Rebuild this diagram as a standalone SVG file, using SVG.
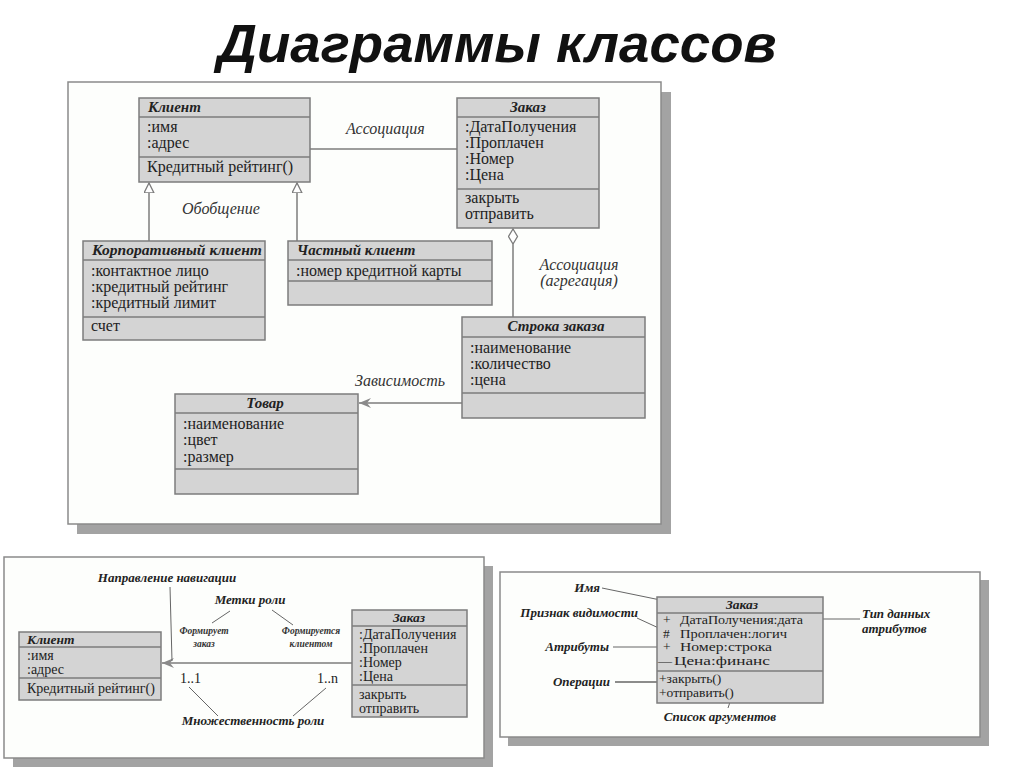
<svg xmlns="http://www.w3.org/2000/svg" width="1024" height="767" viewBox="0 0 1024 767">
<defs>
<style>
.panel{fill:#fdfefc;stroke:#8a8a8a;stroke-width:1.5}
.shadow{fill:#a3a3a3}
.box{fill:#d4d4d4;stroke:#7c7c7c;stroke-width:1.5}
.div{stroke:#7c7c7c;stroke-width:1.3}
.t{font-family:"Liberation Serif",serif;font-size:16px;fill:#222}
.ts{font-family:"Liberation Serif",serif;font-size:14px;fill:#222}
.tx{font-family:"Liberation Serif",serif;font-size:13.5px;fill:#222}
.h{font-family:"Liberation Serif",serif;font-size:15px;font-weight:bold;font-style:italic;fill:#222}
.hs{font-family:"Liberation Serif",serif;font-size:13.5px;font-weight:bold;font-style:italic;fill:#222}
.lbl{font-family:"Liberation Serif",serif;font-size:16px;font-style:italic;fill:#333}
.lb{font-family:"Liberation Serif",serif;font-size:13px;font-weight:bold;font-style:italic;fill:#222}
.tiny{font-family:"Liberation Serif",serif;font-size:9.5px;font-weight:bold;font-style:italic;fill:#333}
.ln{stroke:#7c7c7c;stroke-width:1.5;fill:none}
.ptr{stroke:#666;stroke-width:1;fill:none}
</style>
<marker id="tri" markerWidth="12" markerHeight="12" refX="10" refY="5" orient="auto" markerUnits="userSpaceOnUse">
<path d="M0,0 L10,5 L0,10 Z" fill="#fff" stroke="#7c7c7c" stroke-width="1.3"/>
</marker>
<marker id="dia" markerWidth="18" markerHeight="12" refX="15" refY="5" orient="auto" markerUnits="userSpaceOnUse">
<path d="M0,5 L7.5,0.5 L15,5 L7.5,9.5 Z" fill="#fff" stroke="#7c7c7c" stroke-width="1.3"/>
</marker>
<marker id="arr" markerWidth="14" markerHeight="12" refX="12" refY="5" orient="auto" markerUnits="userSpaceOnUse">
<path d="M0,0 L12,5 L0,10 L4,5 Z" fill="#8a8a8a"/>
</marker>
</defs>
<rect width="1024" height="767" fill="#ffffff"/>
<text x="497" y="62" text-anchor="middle" textLength="559" lengthAdjust="spacingAndGlyphs" style="font-family:'Liberation Sans',Arial,sans-serif;font-size:54px;font-weight:bold;font-style:italic;fill:#111">Диаграммы классов</text>

<!-- panels -->
<g id="panel-main">
<rect class="shadow" x="77" y="92" width="594" height="442"/>
<rect class="panel" x="68" y="82" width="593" height="442"/>
</g>
<g id="panel-left">
<rect class="shadow" x="13" y="566" width="480" height="201"/>
<rect class="panel" x="4" y="557" width="480" height="201"/>
</g>
<g id="panel-right">
<rect class="shadow" x="508" y="580" width="481" height="166"/>
<rect class="panel" x="500" y="572" width="480" height="165"/>
</g>

<!-- connectors -->
<g id="connectors">
<line class="ln" x1="309" y1="149" x2="457" y2="149"/>
<line class="ln" x1="149" y1="241" x2="149" y2="183" marker-end="url(#tri)"/>
<line class="ln" x1="297" y1="241" x2="297" y2="183" marker-end="url(#tri)"/>
<line class="ln" x1="513" y1="317" x2="513" y2="229" marker-end="url(#dia)"/>
<line class="ln" x1="462" y1="403" x2="359" y2="403" marker-end="url(#arr)"/>
<line class="ln" x1="352" y1="663" x2="162" y2="663" marker-end="url(#arr)"/>
<line class="ptr" x1="170" y1="587" x2="172" y2="661"/>
<line class="ptr" x1="230" y1="611" x2="212" y2="623"/>
<line class="ptr" x1="272" y1="610" x2="293" y2="625"/>
<line class="ptr" x1="189" y1="687" x2="218" y2="716"/>
<line class="ptr" x1="326" y1="688" x2="293" y2="716"/>
<line class="ptr" x1="602" y1="588" x2="675" y2="603"/>
<line class="ptr" x1="637" y1="618" x2="663" y2="630"/>
<line class="ptr" x1="613" y1="647" x2="658" y2="647"/>
<line class="ptr" x1="615" y1="682" x2="658" y2="682" style="stroke-width:1.6"/>
<line class="ptr" x1="733" y1="693" x2="728" y2="708"/>
<line class="ptr" x1="792" y1="619" x2="860" y2="619"/>
</g>

<!-- connector labels -->
<g id="labels">
<text class="lbl" x="346" y="134">Ассоциация</text>
<text class="lbl" x="182" y="214">Обобщение</text>
<text class="lbl" x="579" y="270" text-anchor="middle">Ассоциация</text>
<text class="lbl" x="579" y="286" text-anchor="middle">(агрегация)</text>
<text class="lbl" x="355" y="386">Зависимость</text>
<text class="lb" x="167" y="582" text-anchor="middle">Направление навигации</text>
<text class="lb" x="250" y="604" text-anchor="middle">Метки роли</text>
<text class="tiny" x="204" y="634" text-anchor="middle">Формирует</text>
<text class="tiny" x="204" y="647" text-anchor="middle">заказ</text>
<text class="tiny" x="311" y="634" text-anchor="middle">Формируется</text>
<text class="tiny" x="311" y="647" text-anchor="middle">клиентом</text>
<text class="ts" x="180" y="683">1..1</text>
<text class="ts" x="317" y="683">1..n</text>
<text class="lb" x="253" y="725" text-anchor="middle">Множественность роли</text>
<text class="lb" x="600" y="592" text-anchor="end">Имя</text>
<text class="lb" x="638" y="617" text-anchor="end">Признак видимости</text>
<text class="lb" x="609" y="651" text-anchor="end">Атрибуты</text>
<text class="lb" x="610" y="686" text-anchor="end">Операции</text>
<text class="lb" x="720" y="721" text-anchor="middle">Список аргументов</text>
<text class="lb" x="862" y="618">Тип данных</text>
<text class="lb" x="862" y="633">атрибутов</text>
</g>

<!-- main diagram nodes -->
<g id="klient">
<rect class="box" x="139" y="98" width="171" height="84"/>
<line class="div" x1="139" y1="117" x2="310" y2="117"/>
<line class="div" x1="139" y1="157" x2="310" y2="157"/>
<text class="h" x="148" y="112">Клиент</text>
<text class="t" x="147" y="132">:имя</text>
<text class="t" x="147" y="148">:адрес</text>
<text class="t" x="147" y="172">Кредитный рейтинг()</text>
</g>
<g id="zakaz">
<rect class="box" x="457" y="98" width="142" height="130"/>
<line class="div" x1="457" y1="117" x2="599" y2="117"/>
<line class="div" x1="457" y1="189" x2="599" y2="189"/>
<text class="h" x="528" y="112" text-anchor="middle">Заказ</text>
<text class="t" x="465" y="132">:ДатаПолучения</text>
<text class="t" x="465" y="148">:Проплачен</text>
<text class="t" x="465" y="164">:Номер</text>
<text class="t" x="465" y="180">:Цена</text>
<text class="t" x="465" y="203">закрыть</text>
<text class="t" x="465" y="219">отправить</text>
</g>
<g id="korp">
<rect class="box" x="83" y="241" width="182" height="99"/>
<line class="div" x1="83" y1="260" x2="265" y2="260"/>
<line class="div" x1="83" y1="317" x2="265" y2="317"/>
<text class="h" x="92" y="255" textLength="170" lengthAdjust="spacingAndGlyphs">Корпоративный клиент</text>
<text class="t" x="91" y="276">:контактное лицо</text>
<text class="t" x="91" y="292">:кредитный рейтинг</text>
<text class="t" x="91" y="308">:кредитный лимит</text>
<text class="t" x="91" y="331">счет</text>
</g>
<g id="chast">
<rect class="box" x="288" y="241" width="204" height="64"/>
<line class="div" x1="288" y1="260" x2="492" y2="260"/>
<line class="div" x1="288" y1="281" x2="492" y2="281"/>
<text class="h" x="297" y="255">Частный клиент</text>
<text class="t" x="296" y="276">:номер кредитной карты</text>
</g>
<g id="stroka">
<rect class="box" x="462" y="317" width="183" height="101"/>
<line class="div" x1="462" y1="337" x2="645" y2="337"/>
<line class="div" x1="462" y1="393" x2="645" y2="393"/>
<text class="h" x="556" y="331" text-anchor="middle">Строка заказа</text>
<text class="t" x="470" y="353">:наименование</text>
<text class="t" x="470" y="369">:количество</text>
<text class="t" x="470" y="385">:цена</text>
</g>
<g id="tovar">
<rect class="box" x="175" y="394" width="183" height="100"/>
<line class="div" x1="175" y1="413" x2="358" y2="413"/>
<line class="div" x1="175" y1="469" x2="358" y2="469"/>
<text class="h" x="265" y="408" text-anchor="middle">Товар</text>
<text class="t" x="183" y="429">:наименование</text>
<text class="t" x="183" y="445">:цвет</text>
<text class="t" x="183" y="462">:размер</text>
</g>

<!-- bottom-left nodes -->
<g id="klient2">
<rect class="box" x="19" y="632" width="142" height="68"/>
<line class="div" x1="19" y1="647" x2="161" y2="647"/>
<line class="div" x1="19" y1="678" x2="161" y2="678"/>
<text class="hs" x="27" y="644">Клиент</text>
<text class="ts" x="27" y="660">:имя</text>
<text class="ts" x="27" y="674">:адрес</text>
<text class="ts" x="27" y="693">Кредитный рейтинг()</text>
</g>
<g id="zakaz2">
<rect class="box" x="352" y="610" width="115" height="107"/>
<line class="div" x1="352" y1="626" x2="467" y2="626"/>
<line class="div" x1="352" y1="685" x2="467" y2="685"/>
<text class="hs" x="409" y="622" text-anchor="middle">Заказ</text>
<text class="ts" x="359" y="639">:ДатаПолучения</text>
<text class="ts" x="359" y="653">:Проплачен</text>
<text class="ts" x="359" y="667">:Номер</text>
<text class="ts" x="359" y="681">:Цена</text>
<text class="ts" x="359" y="699">закрыть</text>
<text class="ts" x="359" y="713">отправить</text>
</g>

<!-- bottom-right node -->
<g id="zakaz3">
<rect class="box" x="657" y="597" width="166" height="106"/>
<line class="div" x1="657" y1="613" x2="823" y2="613"/>
<line class="div" x1="657" y1="671" x2="823" y2="671"/>
<text class="hs" x="742" y="609" text-anchor="middle">Заказ</text>
<text class="tx" x="663" y="624">+</text><text class="tx" x="680" y="624" textLength="123" lengthAdjust="spacingAndGlyphs">ДатаПолучения:дата</text>
<text class="tx" x="663" y="638">#</text><text class="tx" x="680" y="638" textLength="107" lengthAdjust="spacingAndGlyphs">Проплачен:логич</text>
<text class="tx" x="663" y="651">+</text><text class="tx" x="680" y="651" textLength="92" lengthAdjust="spacingAndGlyphs">Номер:строка</text>
<text class="tx" x="658" y="665" textLength="14" lengthAdjust="spacingAndGlyphs">—</text><text class="tx" x="674" y="665" textLength="96" lengthAdjust="spacingAndGlyphs">Цена:финанс</text>
<text class="tx" x="659" y="683">+закрыть()</text>
<text class="tx" x="659" y="697">+отправить()</text>
</g>
</svg>
